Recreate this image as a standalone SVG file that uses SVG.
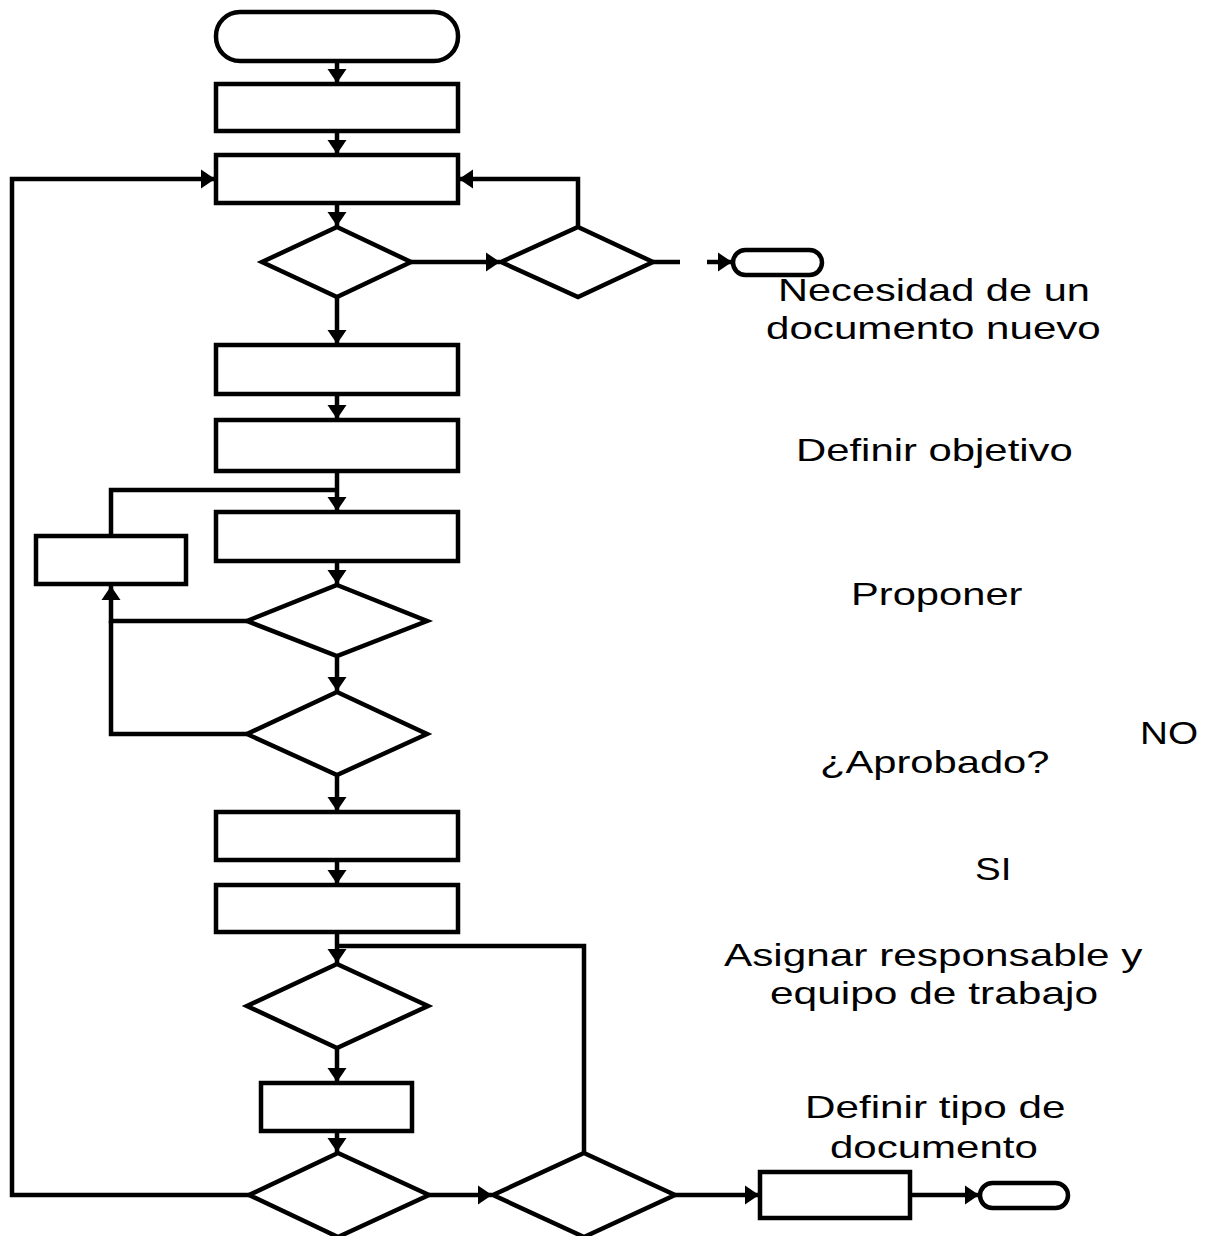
<svg xmlns="http://www.w3.org/2000/svg" width="1213" height="1236" viewBox="0 0 1213 1236">
<style>
.n{fill:#fff;stroke:#000;stroke-width:4.5;stroke-linejoin:miter}
.c{fill:none;stroke:#000;stroke-width:4.5}
.t{font-family:"Liberation Sans",Arial,sans-serif;font-size:31px;fill:#000}
</style>
<defs>
<marker id="ah" markerUnits="userSpaceOnUse" markerWidth="16" markerHeight="22" refX="14" refY="10.5" orient="auto">
<path d="M0,1 L14,10.5 L0,20 Z" fill="#000"/>
</marker>
</defs>
<rect width="1213" height="1236" fill="#fff"/>
<g id="connectors">
<line class="c" x1="337" y1="61" x2="337" y2="83" marker-end="url(#ah)"/>
<line class="c" x1="337" y1="131" x2="337" y2="154" marker-end="url(#ah)"/>
<line class="c" x1="337" y1="203" x2="337" y2="226" marker-end="url(#ah)"/>
<line class="c" x1="411" y1="262" x2="500" y2="262" marker-end="url(#ah)"/>
<polyline class="c" points="578,227 578,179 459,179" marker-end="url(#ah)"/>
<line class="c" x1="653" y1="262" x2="680" y2="262"/>
<line class="c" x1="707" y1="262" x2="732" y2="262" marker-end="url(#ah)"/>
<line class="c" x1="337" y1="297" x2="337" y2="344" marker-end="url(#ah)"/>
<line class="c" x1="337" y1="394" x2="337" y2="419" marker-end="url(#ah)"/>
<line class="c" x1="337" y1="471" x2="337" y2="511" marker-end="url(#ah)"/>
<polyline class="c" points="111,536 111,490 337,490"/>
<line class="c" x1="337" y1="561" x2="337" y2="584" marker-end="url(#ah)"/>
<polyline class="c" points="247,621 111,621 111,586" marker-end="url(#ah)"/>
<line class="c" x1="337" y1="656" x2="337" y2="691" marker-end="url(#ah)"/>
<polyline class="c" points="247,734 111,734 111,621"/>
<line class="c" x1="337" y1="775" x2="337" y2="811" marker-end="url(#ah)"/>
<line class="c" x1="337" y1="860" x2="337" y2="884" marker-end="url(#ah)"/>
<line class="c" x1="337" y1="932" x2="337" y2="963" marker-end="url(#ah)"/>
<polyline class="c" points="584,1153 584,946 337,946"/>
<line class="c" x1="337" y1="1048" x2="337" y2="1082" marker-end="url(#ah)"/>
<line class="c" x1="337" y1="1131" x2="337" y2="1152" marker-end="url(#ah)"/>
<polyline class="c" points="249,1195 12,1195 12,179 215,179" marker-end="url(#ah)"/>
<line class="c" x1="429" y1="1195" x2="492" y2="1195" marker-end="url(#ah)"/>
<line class="c" x1="675" y1="1195" x2="759" y2="1195" marker-end="url(#ah)"/>
<line class="c" x1="910" y1="1195" x2="979" y2="1195" marker-end="url(#ah)"/>
</g>
<g id="start"><rect class="n" x="216" y="12" width="242" height="49" rx="24"/></g>
<g id="box1"><rect class="n" x="216" y="84" width="242" height="47"/></g>
<g id="box2"><rect class="n" x="216" y="155" width="242" height="48"/></g>
<g id="d1"><polygon class="n" points="337,227 411,262 337,297 262,262"/></g>
<g id="d2"><polygon class="n" points="578,227 653,262 578,297 501,262"/></g>
<g id="end1"><rect class="n" x="733" y="250" width="89" height="25" rx="12.5"/></g>
<g id="box3"><rect class="n" x="216" y="345" width="242" height="49"/></g>
<g id="box4"><rect class="n" x="216" y="420" width="242" height="51"/></g>
<g id="box5"><rect class="n" x="216" y="512" width="242" height="49"/></g>
<g id="side"><rect class="n" x="36" y="536" width="150" height="48"/></g>
<g id="d3"><polygon class="n" points="337,585 427,621 337,656 247,621"/></g>
<g id="d4"><polygon class="n" points="337,692 427,734 337,775 247,734"/></g>
<g id="box6"><rect class="n" x="216" y="812" width="242" height="48"/></g>
<g id="box7"><rect class="n" x="216" y="885" width="242" height="47"/></g>
<g id="d5"><polygon class="n" points="337,964 428,1006 337,1048 247,1006"/></g>
<g id="box8"><rect class="n" x="261" y="1083" width="151" height="48"/></g>
<g id="d6"><polygon class="n" points="338,1153 429,1195 338,1237 249,1195"/></g>
<g id="d7"><polygon class="n" points="584,1153 675,1195 584,1237 493,1195"/></g>
<g id="box9"><rect class="n" x="760" y="1172" width="150" height="46"/></g>
<g id="end2"><rect class="n" x="980" y="1183" width="88" height="25" rx="12.5"/></g>
<g id="labels">
<text class="t" transform="translate(778,301) scale(1.35,1)" textLength="231" lengthAdjust="spacingAndGlyphs">Necesidad de un</text>
<text class="t" transform="translate(766,339) scale(1.35,1)" textLength="248" lengthAdjust="spacingAndGlyphs">documento nuevo</text>
<text class="t" transform="translate(796,461) scale(1.35,1)" textLength="205" lengthAdjust="spacingAndGlyphs">Definir objetivo</text>
<text class="t" transform="translate(851,605) scale(1.35,1)" textLength="127" lengthAdjust="spacingAndGlyphs">Proponer</text>
<text class="t" transform="translate(1140,744) scale(1.35,1)" textLength="43" lengthAdjust="spacingAndGlyphs">NO</text>
<text class="t" transform="translate(820,773) scale(1.35,1)" textLength="170" lengthAdjust="spacingAndGlyphs">¿Aprobado?</text>
<text class="t" transform="translate(975,880) scale(1.35,1)" textLength="27" lengthAdjust="spacingAndGlyphs">SI</text>
<text class="t" transform="translate(724,966) scale(1.35,1)" textLength="310" lengthAdjust="spacingAndGlyphs">Asignar responsable y</text>
<text class="t" transform="translate(770,1004) scale(1.35,1)" textLength="243" lengthAdjust="spacingAndGlyphs">equipo de trabajo</text>
<text class="t" transform="translate(805,1118) scale(1.35,1)" textLength="193" lengthAdjust="spacingAndGlyphs">Definir tipo de</text>
<text class="t" transform="translate(830,1158) scale(1.35,1)" textLength="154" lengthAdjust="spacingAndGlyphs">documento</text>
</g>
</svg>
